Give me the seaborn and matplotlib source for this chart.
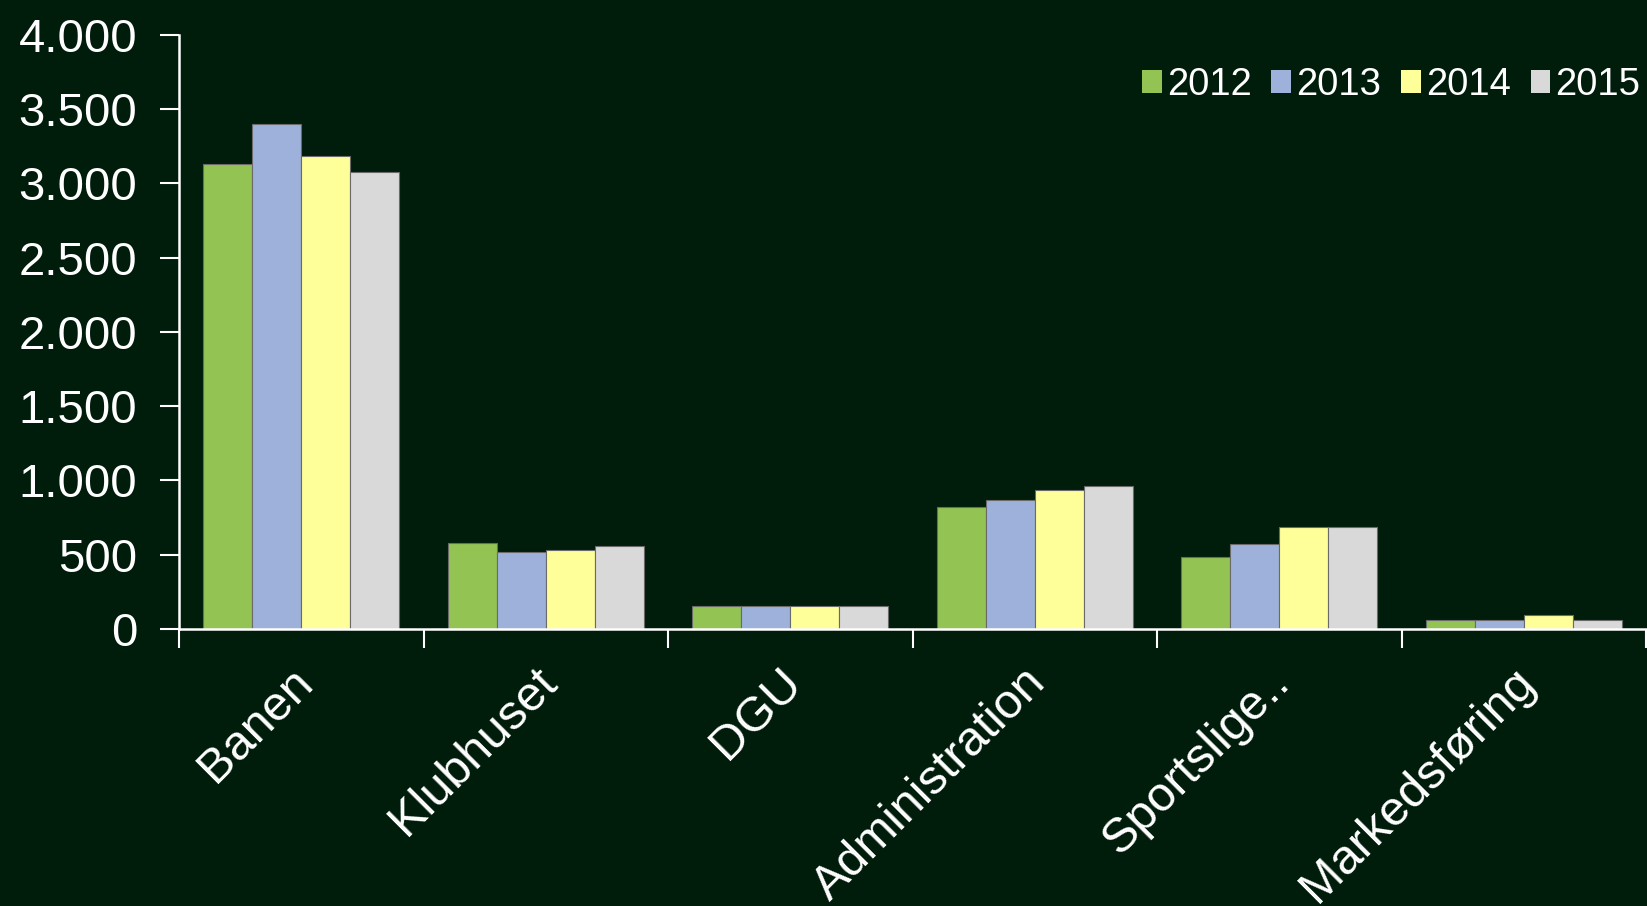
import pandas as pd
import matplotlib
matplotlib.use('Agg')
import matplotlib.pyplot as plt
import seaborn as sns
from matplotlib.ticker import FuncFormatter, FixedLocator
from matplotlib.transforms import ScaledTranslation

# data
kategorier = ['Banen', 'Klubhuset', 'DGU', 'Administration', 'Sportslige..', 'Markedsføring']
aar = ['2012', '2013', '2014', '2015']
v2012 = [3128, 582, 153, 824, 488, 61]
v2013 = [3397, 518, 157, 868, 574, 63]
v2014 = [3184, 532, 155, 936, 686, 95]
v2015 = [3078, 560, 157, 963, 687, 64]
farver = ['#92C353', '#9EB1DB', '#FFFF99', '#D9D9D9']

bg = '#001C0A'

rows = []
for a, vals in zip(aar, [v2012, v2013, v2014, v2015]):
    for k, v in zip(kategorier, vals):
        rows.append({'kategori': k, 'aar': a, 'vaerdi': v})
df = pd.DataFrame(rows)

sns.set_style('white')
plt.rcParams['font.family'] = ['Liberation Sans', 'DejaVu Sans']

fig = plt.figure(figsize=(16.47, 9.06), dpi=100, facecolor=bg)
ax = fig.add_axes([0.1087, 0.3057, 0.8907, 0.656])
ax.set_facecolor(bg)

sns.barplot(data=df, x='kategori', y='vaerdi', hue='aar', palette=farver,
            width=0.8, ax=ax, linewidth=0.8, edgecolor='#6a6a6a', saturation=1)

ax.set_ylim(0, 4000)
ax.set_xlim(-0.5, 5.5)
ax.set_yticks(range(0, 4001, 500))
ax.yaxis.set_major_formatter(FuncFormatter(lambda v, p: f'{int(v):,}'.replace(',', '.')))
ax.set_xlabel('')
ax.set_ylabel('')

for s in ['top', 'right']:
    ax.spines[s].set_visible(False)
for s in ['left', 'bottom']:
    ax.spines[s].set_color('white')
    ax.spines[s].set_linewidth(1.8)

ax.tick_params(axis='y', colors='white', labelsize=34, length=14, width=1.5, direction='out', left=True, pad=16)
ax.tick_params(axis='x', which='major', colors='white', labelsize=35, length=0, pad=4)
ax.xaxis.set_minor_locator(FixedLocator([i - 0.5 for i in range(7)]))
ax.tick_params(axis='x', which='minor', bottom=True, length=14, width=1.5, color='white', direction='out')
plt.setp(ax.get_xticklabels(), rotation=45, ha='right', rotation_mode='anchor')
for lbl in ax.get_xticklabels():
    lbl.set_transform(lbl.get_transform() + ScaledTranslation(-0.12, -0.25, fig.dpi_scale_trans))

leg = ax.legend(loc='center right', bbox_to_anchor=(0.996, 1 - 85 / 906), bbox_transform=fig.transFigure,
                ncol=4, frameon=False, fontsize=27.5, handlelength=0.52, handleheight=0.52,
                handletextpad=0.13, columnspacing=0.52, borderpad=0, borderaxespad=0,
                labelcolor='white')
for h in leg.legend_handles:
    h.set_edgecolor('none')

fig.savefig('out.png', dpi=100, facecolor=bg)
